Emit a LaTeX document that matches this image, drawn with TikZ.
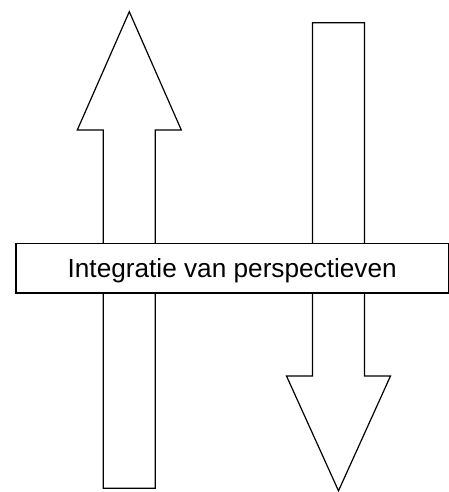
\documentclass[tikz,border=0pt]{standalone}
\usepackage{fontspec}
\setmainfont{Liberation Sans}
\begin{document}
\begin{tikzpicture}[x=1pt,y=-1pt]
		\tikzstyle{fleche}=[draw=black,fill=white,line width=1.2pt,line join=miter]
		\tikzstyle{boite}=[draw=black,fill=white,line width=1.2pt,minimum width=432.3pt,minimum height=49.7pt,text height=18.8pt,text depth=0pt,font=\fontsize{26.2}{30}\selectfont]
		\def\DemiTige{26}
		\def\DemiTete{52}
		\useasboundingbox (0,0) rectangle (449,492);
		% fleche montante
		\def\AxeA{129.3}
		\coordinate (HautA) at (\AxeA,11.7);
		\coordinate (BasA) at (\AxeA,488.3);
		\def\BaseA{130}
		\path[fleche] ({\AxeA-\DemiTige},488.3) -- ({\AxeA-\DemiTige},\BaseA) -- ({\AxeA-\DemiTete},\BaseA)
			-- (HautA) -- ({\AxeA+\DemiTete},\BaseA) -- ({\AxeA+\DemiTige},\BaseA) -- ({\AxeA+\DemiTige},488.3) -- cycle;
		% fleche descendante
		\def\AxeB{338.5}
		\coordinate (HautB) at (\AxeB,22.7);
		\coordinate (BasB) at (\AxeB,490.8);
		\def\BaseB{376}
		\path[fleche] ({\AxeB-\DemiTige},22.7) -- ({\AxeB-\DemiTige},\BaseB) -- ({\AxeB-\DemiTete},\BaseB)
			-- (BasB) -- ({\AxeB+\DemiTete},\BaseB) -- ({\AxeB+\DemiTige},\BaseB) -- ({\AxeB+\DemiTige},22.7) -- cycle;
		% bandeau
		\node[boite] (integratie) at (232.2,268.2) {Integratie van perspectieven};
	\end{tikzpicture}
\end{document}
